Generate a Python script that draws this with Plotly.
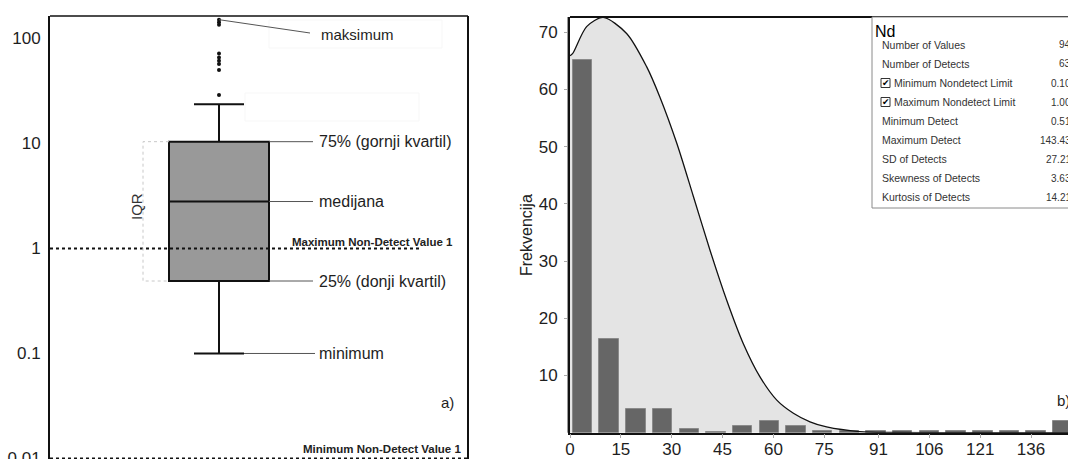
import math
import plotly.graph_objects as go

W, H = 1068, 459
FONT = "Arial, Liberation Sans, sans-serif"

# ---------------- a) box plot summary (log scale) ----------------
box_q1 = 0.49
box_median = 2.8
box_q3 = 10.4
box_min = 0.1
box_whisker_hi = 23.6
box_outliers = [29, 50, 57, 61.5, 66, 72, 135, 143, 151]
max_nd_value = 1.0
min_nd_value = 0.01
log_ticks = [0.01, 0.1, 1, 10, 100]
log_tick_labels = ["0.01", "0.1", "1", "10", "100"]

# ---------------- b) histogram with fitted curve ----------------
hist_centers = [3.7, 11.6, 19.4, 27.3, 35.2, 43.1, 50.9, 58.8, 66.7, 74.5,
                82.4, 90.3, 98.1, 106.0, 113.9, 121.8, 129.6, 137.5, 145.4]
hist_counts = [65.2, 16.4, 4.1, 4.1, 0.6, 0.2, 1.1, 2.1, 1.1, 0.3,
               0.25, 0.25, 0.25, 0.25, 0.25, 0.25, 0.25, 0.25, 2.1]
curve_x = [0, 0.8, 4.9, 9.8, 16.7, 22.6, 26.5, 31.5, 36.4, 41.3, 46.2, 51.1,
           56.0, 61.0, 65.9, 70.8, 75.7, 85.5, 95, 110, 150]
curve_y = [65.9, 66.3, 71.0, 72.6, 69.8, 64.0, 58.7, 50.6, 41.3, 31.9, 23.2, 15.6,
           9.8, 5.7, 3.4, 1.9, 1.0, 0.2, 0.05, 0.0, 0.0]
hist_ticks = [0, 15, 30, 45, 60, 75, 91, 106, 121, 136]
freq_ticks = [10, 20, 30, 40, 50, 60, 70]

stat_title = "Nd"
stat_labels = ["Number of Values", "Number of Detects", "Minimum Nondetect Limit",
               "Maximum Nondetect Limit", "Minimum Detect", "Maximum Detect",
               "SD of Detects", "Skewness of Detects", "Kurtosis of Detects"]
stat_values = ["94", "63", "0.10", "1.00", "0.51", "143.43", "27.21", "3.63", "14.21"]
stat_checked = [False, False, True, True, False, False, False, False, False]

# ---------------- geometry helpers (pixels -> paper / axis units) ----------------
def px(x):
    return x / W

def py(y):
    return 1 - y / H

L_X0, L_X1, L_TOP, L_BOT = 50, 468, 16, 459
L_RANGE = [-2.005, 2.214]
R_X0, R_TOP, R_BASE = 570, 17, 432.7
R_XMAX = (W - R_X0) / 3.39
R_YMAX = (R_BASE - R_TOP) / 5.72


def lx(p):
    """pixel x -> left-panel x units"""
    return (p - L_X0) / (L_X1 - L_X0)


def lval(p):
    """pixel y -> value on the left log axis"""
    lo, hi = L_RANGE
    return 10 ** (hi - (p - L_TOP) / (L_BOT - L_TOP) * (hi - lo))


box_x = lx(219)
box_w = lx(269) - lx(169)

fig = go.Figure()

# ---- left panel ----
fig.add_trace(go.Box(
    x=[box_x], q1=[box_q1], median=[box_median], q3=[box_q3],
    lowerfence=[box_min], upperfence=[box_whisker_hi],
    width=box_w, whiskerwidth=0.5, boxpoints=False,
    fillcolor="#999999", line=dict(color="#111111", width=2),
    xaxis="x", yaxis="y", showlegend=False, hoverinfo="skip"))

fig.add_trace(go.Scatter(
    x=[box_x] * len(box_outliers), y=box_outliers, mode="markers",
    marker=dict(color="#111111", size=4), xaxis="x", yaxis="y",
    showlegend=False, hoverinfo="skip"))

# non-detect threshold lines
fig.add_trace(go.Scatter(
    x=[lx(50), lx(420)], y=[max_nd_value, max_nd_value], mode="lines",
    line=dict(color="#111111", width=2, dash="3px,3px"),
    xaxis="x", yaxis="y", showlegend=False, hoverinfo="skip"))
fig.add_trace(go.Scatter(
    x=[lx(50), lx(468)], y=[min_nd_value, min_nd_value], mode="lines",
    line=dict(color="#111111", width=2, dash="3px,3px"),
    xaxis="x", yaxis="y", showlegend=False, hoverinfo="skip"))

# IQR bracket (dotted)
fig.add_trace(go.Scatter(
    x=[lx(169), lx(143), lx(143), lx(169)], y=[box_q3, box_q3, box_q1, box_q1],
    mode="lines", line=dict(color="#c8c8c8", width=1, dash="dot"),
    xaxis="x", yaxis="y", showlegend=False, hoverinfo="skip"))

# callout leader lines
callouts = [
    ([lx(269), lx(313)], [box_q3, box_q3]),
    ([lx(269), lx(313)], [box_median, box_median]),
    ([lx(269), lx(313)], [box_q1, box_q1]),
    ([lx(244), lx(315)], [box_min, box_min]),
    ([box_x, lx(310)], [max(box_outliers), lval(33)]),
]
for cx, cy in callouts:
    fig.add_trace(go.Scatter(
        x=cx, y=cy, mode="lines", line=dict(color="#555555", width=1),
        xaxis="x", yaxis="y", showlegend=False, hoverinfo="skip"))

# ---- right panel ----
# shaded area under the fitted curve sits on the base axes ...
fig.add_trace(go.Scatter(
    x=curve_x, y=curve_y, mode="lines", line=dict(width=0, shape="spline", smoothing=0.8),
    fill="tozeroy", fillcolor="#e4e4e4", xaxis="x2", yaxis="y2",
    showlegend=False, hoverinfo="skip"))
# ... while the bars and the outline are on overlaid axes drawn above it
fig.add_trace(go.Bar(
    x=hist_centers, y=hist_counts, width=5.8,
    marker=dict(color="#666666", line=dict(color="#8a8a8a", width=1)),
    xaxis="x3", yaxis="y3", showlegend=False, hoverinfo="skip"))
fig.add_trace(go.Scatter(
    x=curve_x, y=curve_y, mode="lines",
    line=dict(color="#111111", width=1.3, shape="spline", smoothing=0.8),
    xaxis="x3", yaxis="y3", showlegend=False, hoverinfo="skip"))

tick_font = dict(family=FONT, size=17, color="#1e1e1e")

fig.update_layout(
    template="none",
    width=W, height=H, autosize=False,
    margin=dict(l=0, r=0, t=0, b=0, pad=0),
    paper_bgcolor="white", plot_bgcolor="rgba(0,0,0,0)",
    bargap=0,
    xaxis=dict(domain=[px(L_X0), px(L_X1)], range=[0, 1], visible=False,
               automargin=False, fixedrange=True),
    yaxis=dict(domain=[py(L_BOT), py(L_TOP)], type="log", range=L_RANGE,
               tickvals=log_ticks, ticktext=log_tick_labels, tickfont=tick_font,
               showline=True, linecolor="#111111", linewidth=2, ticks="",
               ticklabelstandoff=4, ticklabeloverflow="allow",
               showgrid=False, zeroline=False, anchor="x", automargin=False),
    # labelled bottom axis: no outward ticks so the labels sit close to the line
    xaxis2=dict(domain=[px(R_X0), 1], range=[0, R_XMAX], anchor="y2",
                tickvals=hist_ticks, ticktext=[str(t) for t in hist_ticks],
                tickfont=tick_font, ticks="",
                showline=True, linecolor="#111111", linewidth=2,
                ticklabelstandoff=0, showgrid=False, zeroline=False, automargin=False),
    yaxis2=dict(domain=[py(R_BASE), py(R_TOP)], range=[0, R_YMAX], anchor="x2",
                tickvals=freq_ticks, ticktext=[str(t) for t in freq_ticks],
                tickfont=tick_font, ticks="outside", ticklen=4, tickcolor="#aaaaaa",
                showline=True, linecolor="#111111", linewidth=2,
                ticklabelstandoff=3, showgrid=False, zeroline=False, automargin=False),
    # overlay axes carry the small grey tick marks below the baseline
    xaxis3=dict(overlaying="x2", range=[0, R_XMAX], anchor="y3",
                tickvals=hist_ticks, showticklabels=False, ticks="outside",
                ticklen=4, tickcolor="#aaaaaa", showline=False, showgrid=False,
                zeroline=False, automargin=False),
    yaxis3=dict(overlaying="y2", range=[0, R_YMAX], visible=False, anchor="x3",
                automargin=False),
)

shapes = []


def hline(x0, x1, y, color="#111111", width=2, layer="above"):
    shapes.append(dict(type="line", xref="paper", yref="paper", x0=px(x0), x1=px(x1),
                       y0=py(y), y1=py(y), line=dict(color=color, width=width), layer=layer))


def vline(x, y0, y1, color="#111111", width=2, layer="above"):
    shapes.append(dict(type="line", xref="paper", yref="paper", x0=px(x), x1=px(x),
                       y0=py(y0), y1=py(y1), line=dict(color=color, width=width), layer=layer))


def rect(x0, y0, x1, y1, line="#888888", fill="rgba(0,0,0,0)", width=1, layer="above"):
    shapes.append(dict(type="rect", xref="paper", yref="paper", x0=px(x0), x1=px(x1),
                       y0=py(y1), y1=py(y0), line=dict(color=line, width=width),
                       fillcolor=fill, layer=layer))


# left panel frame
hline(L_X0, L_X1, L_TOP, width=1.5)
vline(L_X1, L_TOP, L_BOT, width=2)
# faint label boxes
rect(269, 20, 442, 48, line="#f7f7f7", layer="below")
rect(245, 93, 419, 121, line="#f7f7f7", layer="below")

# right panel frame
hline(R_X0, W, R_TOP, width=2)
vline(567.5, R_TOP, R_BASE, color="#9a9a9a", width=1)
# statistics box
rect(872, R_TOP, W + 10, 208, line="#8a8a8a", fill="white", width=1)
row_y = [45 + 19 * i for i in range(len(stat_labels))]
for yy, chk in zip(row_y, stat_checked):
    if chk:
        rect(881, yy - 4.5, 890, yy + 4.5, line="#333333", fill="white", width=1)

annotations = []


def text(x, y, s, size=16, anchor="left", color="#1e1e1e", bold=False, angle=0, family=FONT,
         xref="paper", yref="paper"):
    annotations.append(dict(
        x=x if xref != "paper" else px(x), y=y if yref != "paper" else py(y),
        xref=xref, yref=yref, text=f"<b>{s}</b>" if bold else s, showarrow=False,
        xanchor=anchor, yanchor="middle", textangle=angle,
        font=dict(family=family, size=size, color=color)))


# left panel labels tied to the box statistics
text(317, math.log10(box_q3), "75% (gornji kvartil)", yref="y")
text(317, math.log10(box_median), "medijana", yref="y")
text(317, math.log10(box_q1), "25% (donji kvartil)", yref="y")
text(317, math.log10(box_min), "minimum", yref="y")
text(319, 34, "maksimum", size=15)
text(137, 207, "IQR", size=15, anchor="center", angle=-90, color="#333333")
text(455, 242, "Maximum Non-Detect Value 1", size=11.5, anchor="right", bold=True, color="#222222")
text(463, 449, "Minimum Non-Detect Value 1", size=11.5, anchor="right", bold=True, color="#222222")
text(447, 402, "a)", size=15, anchor="center")

# right panel labels
text(526, 235, "Frekvencija", size=16, anchor="center", angle=-90, color="#222222")
text(1055, 400, "b)", size=15)
text(873, 31, stat_title, size=16, color="#000000")
for yy, lab, val, chk in zip(row_y, stat_labels, stat_values, stat_checked):
    if chk:
        text(885.5, yy, "\u2714", size=9, anchor="center", color="#000000",
             family="DejaVu Sans")
        text(892, yy, lab, size=10.5, color="#333333")
    else:
        text(880, yy, lab, size=10.5, color="#333333")
    text(1073, yy, val, size=10, anchor="right", color="#333333")

fig.update_layout(shapes=shapes, annotations=annotations)
fig.write_html("out.html")
